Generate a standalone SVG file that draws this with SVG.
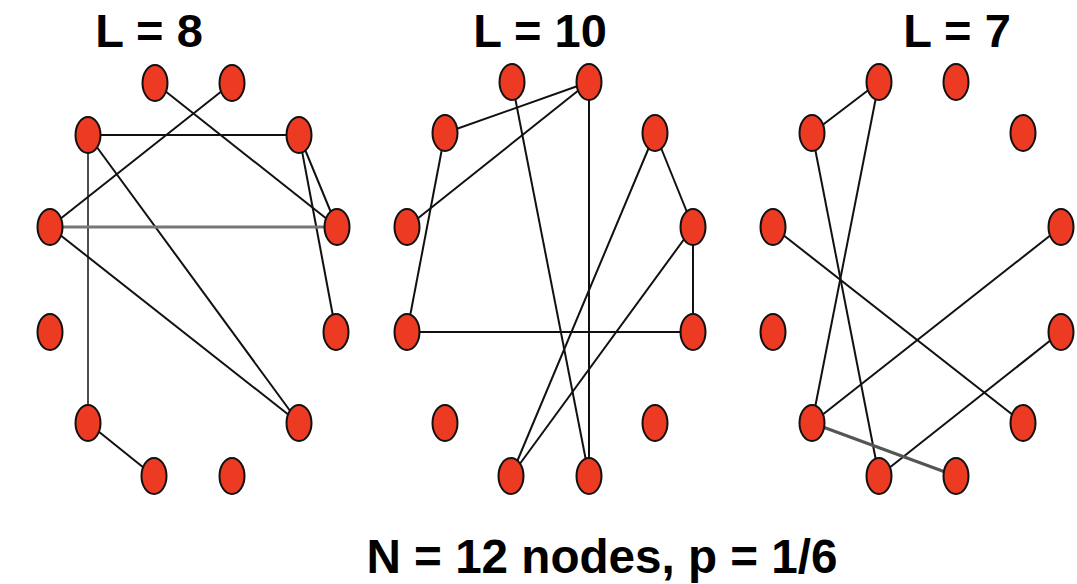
<svg xmlns="http://www.w3.org/2000/svg" width="1077" height="584" viewBox="0 0 1077 584">
<style>
.n{fill:#ec3b22;stroke:#111;stroke-width:2}
.e{stroke:#111;stroke-width:2;fill:none}
.g{stroke:#777;stroke-width:3;fill:none}
.t{font-family:"Liberation Sans",Arial,sans-serif;font-weight:bold;fill:#000;text-anchor:middle}
</style>
<rect width="1077" height="584" fill="#fff"/>
<text class="t" x="149" y="47" font-size="47">L = 8</text>
<text class="t" x="540" y="47" font-size="47">L = 10</text>
<text class="t" x="957" y="47" font-size="47">L = 7</text>
<text class="t" x="602" y="573" font-size="48" textLength="471" lengthAdjust="spacingAndGlyphs">N = 12 nodes, p = 1/6</text>
<g id="connectors">
<line class="e" x1="155" y1="83" x2="337" y2="227"/>
<line class="e" x1="232" y1="83" x2="50" y2="227"/>
<line class="e" x1="88" y1="135" x2="299" y2="135"/>
<line class="e" x1="88" y1="135" x2="88" y2="423" style="stroke-width:1.5"/>
<line class="e" x1="88" y1="135" x2="299" y2="423"/>
<line class="e" x1="299" y1="135" x2="337" y2="227"/>
<line class="e" x1="299" y1="135" x2="336" y2="332"/>
<line class="g" x1="50" y1="227" x2="337" y2="227"/>
<line class="e" x1="50" y1="227" x2="299" y2="423"/>
<line class="e" x1="88" y1="423" x2="154" y2="476"/>
<line class="e" x1="589" y1="82" x2="445" y2="133"/>
<line class="e" x1="589" y1="82" x2="407" y2="227"/>
<line class="e" x1="589" y1="82" x2="589" y2="476"/>
<line class="e" x1="512" y1="82" x2="589" y2="476"/>
<line class="e" x1="445" y1="133" x2="407" y2="332"/>
<line class="e" x1="655" y1="133" x2="693" y2="227"/>
<line class="e" x1="655" y1="133" x2="511" y2="476"/>
<line class="e" x1="693" y1="227" x2="511" y2="476"/>
<line class="e" x1="693" y1="227" x2="693" y2="332"/>
<line class="e" x1="407" y1="332" x2="693" y2="332"/>
<line class="e" x1="879" y1="82" x2="812" y2="133"/>
<line class="e" x1="879" y1="82" x2="812" y2="423"/>
<line class="e" x1="812" y1="133" x2="879" y2="476"/>
<line class="e" x1="773" y1="227" x2="1023" y2="423"/>
<line class="e" x1="1061" y1="227" x2="812" y2="423"/>
<line class="e" x1="1061" y1="332" x2="879" y2="476"/>
<line class="g" x1="812" y1="423" x2="956" y2="476" style="stroke:#555"/>
</g>
<g id="g1">
<g id="a1"><ellipse class="n" cx="155" cy="83" rx="12.5" ry="18"/></g>
<g id="a2"><ellipse class="n" cx="232" cy="83" rx="12.5" ry="18"/></g>
<g id="a3"><ellipse class="n" cx="88" cy="135" rx="12.5" ry="18"/></g>
<g id="a4"><ellipse class="n" cx="299" cy="135" rx="12.5" ry="18"/></g>
<g id="a5"><ellipse class="n" cx="50" cy="227" rx="12.5" ry="18"/></g>
<g id="a6"><ellipse class="n" cx="337" cy="227" rx="12.5" ry="18"/></g>
<g id="a7"><ellipse class="n" cx="50" cy="332" rx="12.5" ry="18"/></g>
<g id="a8"><ellipse class="n" cx="336" cy="332" rx="12.5" ry="18"/></g>
<g id="a9"><ellipse class="n" cx="88" cy="423" rx="12.5" ry="18"/></g>
<g id="a10"><ellipse class="n" cx="299" cy="423" rx="12.5" ry="18"/></g>
<g id="a11"><ellipse class="n" cx="154" cy="476" rx="12.5" ry="18"/></g>
<g id="a12"><ellipse class="n" cx="232" cy="476" rx="12.5" ry="18"/></g>
</g>
<g id="g2">
<g id="b1"><ellipse class="n" cx="512" cy="82" rx="12.5" ry="18"/></g>
<g id="b2"><ellipse class="n" cx="589" cy="82" rx="12.5" ry="18"/></g>
<g id="b3"><ellipse class="n" cx="445" cy="133" rx="12.5" ry="18"/></g>
<g id="b4"><ellipse class="n" cx="655" cy="133" rx="12.5" ry="18"/></g>
<g id="b5"><ellipse class="n" cx="407" cy="227" rx="12.5" ry="18"/></g>
<g id="b6"><ellipse class="n" cx="693" cy="227" rx="12.5" ry="18"/></g>
<g id="b7"><ellipse class="n" cx="407" cy="332" rx="12.5" ry="18"/></g>
<g id="b8"><ellipse class="n" cx="693" cy="332" rx="12.5" ry="18"/></g>
<g id="b9"><ellipse class="n" cx="445" cy="423" rx="12.5" ry="18"/></g>
<g id="b10"><ellipse class="n" cx="655" cy="423" rx="12.5" ry="18"/></g>
<g id="b11"><ellipse class="n" cx="511" cy="476" rx="12.5" ry="18"/></g>
<g id="b12"><ellipse class="n" cx="589" cy="476" rx="12.5" ry="18"/></g>
</g>
<g id="g3">
<g id="c1"><ellipse class="n" cx="879" cy="82" rx="12.5" ry="18"/></g>
<g id="c2"><ellipse class="n" cx="956" cy="82" rx="12.5" ry="18"/></g>
<g id="c3"><ellipse class="n" cx="812" cy="133" rx="12.5" ry="18"/></g>
<g id="c4"><ellipse class="n" cx="1023" cy="133" rx="12.5" ry="18"/></g>
<g id="c5"><ellipse class="n" cx="773" cy="227" rx="12.5" ry="18"/></g>
<g id="c6"><ellipse class="n" cx="1061" cy="227" rx="12.5" ry="18"/></g>
<g id="c7"><ellipse class="n" cx="773" cy="332" rx="12.5" ry="18"/></g>
<g id="c8"><ellipse class="n" cx="1061" cy="332" rx="12.5" ry="18"/></g>
<g id="c9"><ellipse class="n" cx="812" cy="423" rx="12.5" ry="18"/></g>
<g id="c10"><ellipse class="n" cx="1023" cy="423" rx="12.5" ry="18"/></g>
<g id="c11"><ellipse class="n" cx="879" cy="476" rx="12.5" ry="18"/></g>
<g id="c12"><ellipse class="n" cx="956" cy="476" rx="12.5" ry="18"/></g>
</g>
</svg>
